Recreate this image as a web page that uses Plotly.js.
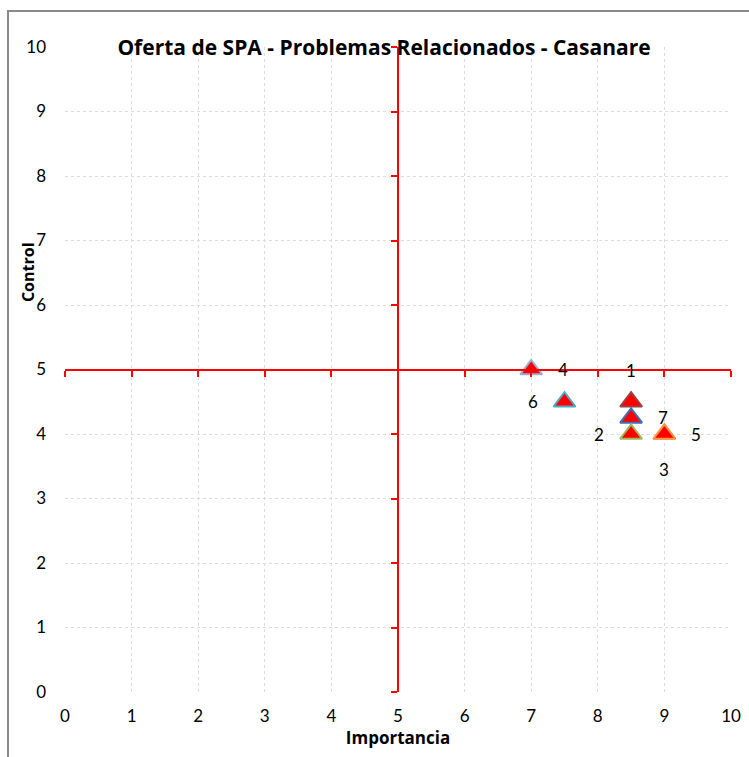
<!DOCTYPE html>
<html>
<head>
<meta charset="utf-8">
<script src="https://cdn.plot.ly/plotly-3.0.1.min.js"></script>
<style>
html,body{margin:0;padding:0;background:#fff;overflow:hidden;}
#wrap{position:relative;width:749px;height:757px;}
#chart{width:749px;height:757px;}
#frameL{position:absolute;left:7px;top:10px;width:2px;height:760px;background:#8a8a8a;z-index:10;pointer-events:none;}
#frameT{position:absolute;left:7px;top:10px;width:760px;height:2px;background:#8a8a8a;z-index:10;pointer-events:none;}
</style>
</head>
<body>
<div id="wrap"><div id="chart"></div><div id="frameL"></div><div id="frameT"></div></div>
<script>
// Data
var labels = ["4", "6", "1", "7", "2", "3", "5"];
var importancia = [7, 7.5, 8.5, 8.5, 8.5, 9, 9];
var control = [5, 4.5, 4.5, 4.25, 4, 4, 4];
var labelPos = ["right", "left", "above", "right", "left", "below", "right"];
var outlineColors = ["#95B3D7", "#4BACC6", "#A0403D", "#3F6FB0", "#9BBB59", "#F79646", "#F79646"];
var tickVals = [0, 1, 2, 3, 4, 5, 6, 7, 8, 9, 10];
var titleText = "Oferta de SPA - Problemas Relacionados - Casanare";
var xTitle = "Importancia";
var yTitle = "Control";

var FONT = "Lato, 'Open Sans', sans-serif";
var BOLDFONT = "'Open Sans', Lato, sans-serif";

var traces = [];
for (var i = 0; i < labels.length; i++) {
  traces.push({
    type: "scatter", mode: "markers",
    x: [importancia[i]], y: [control[i]],
    name: labels[i],
    marker: { symbol: "triangle-up", size: 19, color: "#FF0000",
              line: { color: outlineColors[i], width: 2 } },
    showlegend: false, hoverinfo: "x+y"
  });
}
// empty trace to activate red cross axes
traces.push({ type: "scatter", x: [], y: [], xaxis: "x2", yaxis: "y2", showlegend: false, hoverinfo: "skip" });

var shiftMap = { right: [32, 0], left: [-32, 0], above: [0, 31], below: [0, -35] };
var annotations = [];
for (var j = 0; j < labels.length; j++) {
  var s = shiftMap[labelPos[j]];
  annotations.push({
    x: importancia[j], y: control[j], xref: "x", yref: "y",
    text: labels[j], showarrow: false, xshift: s[0], yshift: s[1],
    font: { family: FONT, size: 17, color: "#000" }
  });
}
annotations.push({
  text: "<b>" + yTitle + "</b>", xref: "paper", yref: "paper",
  x: -0.0556, y: 0.651, xanchor: "center", yanchor: "middle", textangle: -90, showarrow: false,
  font: { family: BOLDFONT, size: 16, color: "#000" }
});

var gridAxis = {
  range: [0, 10], tickvals: tickVals, ticktext: tickVals.map(String),
  showgrid: true, gridcolor: "#dcdcdc", griddash: "dot", gridwidth: 1,
  zeroline: false, showline: false, ticks: "",
  tickfont: { family: FONT, size: 17, color: "#000" },
  ticklabelstandoff: 12, fixedrange: true
};

var layout = {
  width: 749, height: 757,
  margin: { l: 65, r: 18, t: 47, b: 65 },
  paper_bgcolor: "#fff", plot_bgcolor: "#fff",
  title: { text: "<b>" + titleText + "</b>", x: 0.479, xref: "paper", y: 0.9366, yanchor: "middle",
           font: { family: BOLDFONT, size: 21, color: "#000" } },
  xaxis: Object.assign({}, gridAxis, {
    title: { text: "<b>" + xTitle + "</b>", standoff: 6, font: { family: BOLDFONT, size: 17, color: "#000" } }
  }),
  yaxis: Object.assign({}, gridAxis, { ticklabelstandoff: 18 }),
  xaxis2: {
    overlaying: "x", anchor: "free", position: 0.5, side: "bottom",
    range: [0, 10], tickvals: tickVals, showticklabels: false,
    showline: true, linecolor: "#FF0000", linewidth: 2,
    ticks: "outside", ticklen: 6, tickwidth: 2, tickcolor: "#FF0000",
    showgrid: false, zeroline: false, fixedrange: true
  },
  yaxis2: {
    overlaying: "y", anchor: "free", position: 0.5, side: "left",
    range: [0, 10], tickvals: tickVals, showticklabels: false,
    showline: true, linecolor: "#FF0000", linewidth: 2,
    ticks: "outside", ticklen: 6, tickwidth: 2, tickcolor: "#FF0000",
    showgrid: false, zeroline: false, fixedrange: true
  },
  annotations: annotations
};

Plotly.newPlot("chart", traces, layout, { displayModeBar: false, staticPlot: true });
</script>
</body>
</html>
